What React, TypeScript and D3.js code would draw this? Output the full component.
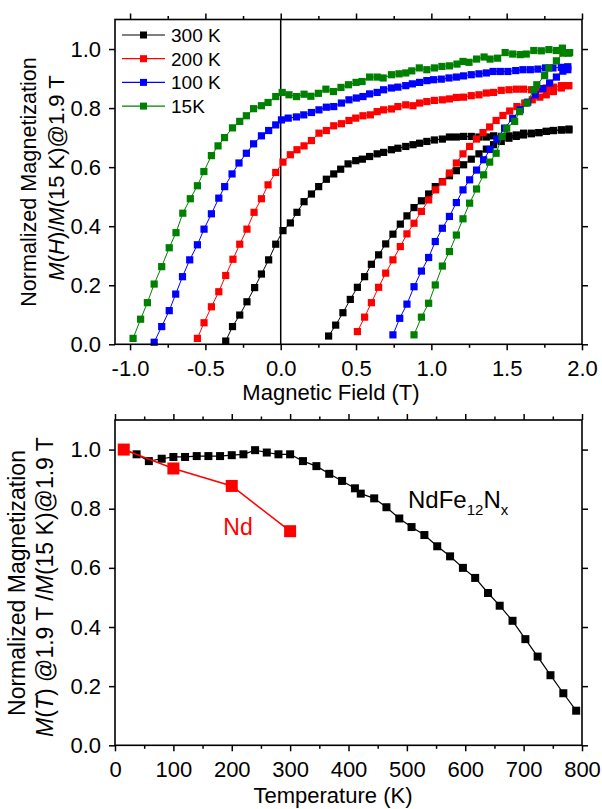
import React, { useEffect, useRef } from "react";
import * as d3 from "d3";

type Pt = [number, number];

// M(H) loops: field (T), M/M(15 K)@1.9 T. "Down" = sweep from +1.9 T, "Up" = return sweep
const k300Down: Pt[] = [[1.913,0.726],[1.863,0.726],[1.81,0.724],[1.763,0.721],[1.714,0.717],[1.664,0.715],[1.612,0.715],[1.564,0.709],[1.515,0.706],[1.464,0.704],[1.413,0.706],[1.365,0.702],[1.316,0.702],[1.265,0.704],[1.214,0.704],[1.166,0.702],[1.12,0.702],[1.073,0.695],[1.02,0.692],[0.97,0.687],[0.922,0.681],[0.878,0.676],[0.83,0.67],[0.778,0.664],[0.735,0.659],[0.683,0.65],[0.64,0.645],[0.59,0.636],[0.542,0.627],[0.498,0.622],[0.447,0.611],[0.398,0.593],[0.352,0.577],[0.303,0.559],[0.252,0.534],[0.204,0.509],[0.155,0.483],[0.108,0.447],[0.064,0.411],[0.015,0.385],[-0.033,0.339],[-0.08,0.286],[-0.128,0.238],[-0.173,0.192],[-0.224,0.144],[-0.272,0.099],[-0.32,0.06],[-0.365,0.011]];
const k300Up: Pt[] = [[0.318,0.028],[0.365,0.065],[0.413,0.107],[0.462,0.152],[0.509,0.193],[0.557,0.229],[0.602,0.271],[0.65,0.303],[0.697,0.34],[0.745,0.373],[0.794,0.407],[0.838,0.435],[0.885,0.463],[0.934,0.486],[0.982,0.509],[1.026,0.534],[1.073,0.551],[1.12,0.571],[1.166,0.588],[1.214,0.608],[1.265,0.627],[1.316,0.645],[1.365,0.661],[1.413,0.676],[1.464,0.687],[1.515,0.698],[1.564,0.704],[1.612,0.709],[1.664,0.713],[1.714,0.717],[1.763,0.721],[1.81,0.724],[1.863,0.726],[1.913,0.729]];

const k200Down: Pt[] = [[1.913,0.876],[1.863,0.876],[1.81,0.871],[1.763,0.868],[1.714,0.864],[1.664,0.862],[1.612,0.864],[1.564,0.864],[1.515,0.862],[1.464,0.86],[1.413,0.853],[1.365,0.851],[1.316,0.845],[1.265,0.842],[1.214,0.837],[1.166,0.836],[1.12,0.831],[1.073,0.828],[1.02,0.826],[0.97,0.822],[0.922,0.817],[0.878,0.808],[0.83,0.811],[0.778,0.805],[0.735,0.797],[0.683,0.794],[0.64,0.788],[0.595,0.777],[0.546,0.774],[0.498,0.766],[0.453,0.758],[0.403,0.747],[0.352,0.74],[0.303,0.724],[0.254,0.715],[0.204,0.69],[0.155,0.672],[0.108,0.659],[0.064,0.642],[0.015,0.617],[-0.033,0.582],[-0.084,0.54],[-0.128,0.493],[-0.177,0.447],[-0.224,0.39],[-0.272,0.339],[-0.317,0.288],[-0.365,0.233],[-0.411,0.178],[-0.46,0.127],[-0.509,0.073],[-0.553,0.02]];
const k200Up: Pt[] = [[0.509,0.043],[0.557,0.092],[0.602,0.141],[0.65,0.193],[0.697,0.241],[0.745,0.286],[0.794,0.331],[0.838,0.374],[0.885,0.41],[0.934,0.45],[0.982,0.489],[1.029,0.523],[1.075,0.55],[1.12,0.58],[1.166,0.614],[1.21,0.645],[1.254,0.67],[1.3,0.695],[1.343,0.717],[1.387,0.736],[1.43,0.758],[1.475,0.775],[1.52,0.79],[1.568,0.805],[1.62,0.817],[1.67,0.828],[1.72,0.837],[1.763,0.845],[1.81,0.856],[1.863,0.868],[1.906,0.876]];

const k100Down: Pt[] = [[1.906,0.93],[1.863,0.938],[1.807,0.936],[1.758,0.936],[1.707,0.932],[1.657,0.93],[1.608,0.93],[1.56,0.927],[1.508,0.924],[1.458,0.924],[1.41,0.924],[1.365,0.919],[1.316,0.916],[1.265,0.913],[1.214,0.909],[1.166,0.905],[1.117,0.902],[1.066,0.898],[1.015,0.896],[0.97,0.893],[0.922,0.887],[0.874,0.882],[0.83,0.876],[0.778,0.871],[0.735,0.868],[0.683,0.862],[0.64,0.853],[0.59,0.848],[0.546,0.839],[0.502,0.834],[0.453,0.828],[0.403,0.817],[0.352,0.805],[0.303,0.803],[0.254,0.794],[0.204,0.785],[0.153,0.777],[0.104,0.77],[0.05,0.766],[0.005,0.76],[-0.033,0.743],[-0.08,0.724],[-0.128,0.706],[-0.18,0.679],[-0.228,0.647],[-0.277,0.614],[-0.323,0.577],[-0.372,0.534],[-0.411,0.495],[-0.46,0.442],[-0.509,0.39],[-0.553,0.337],[-0.604,0.286],[-0.652,0.229],[-0.697,0.17],[-0.74,0.114],[-0.79,0.06],[-0.84,0.007]];
const k100Up: Pt[] = [[0.745,0.032],[0.79,0.088],[0.838,0.136],[0.885,0.195],[0.934,0.248],[0.982,0.294],[1.026,0.348],[1.073,0.393],[1.12,0.433],[1.166,0.48],[1.21,0.523],[1.254,0.557],[1.3,0.59],[1.347,0.625],[1.39,0.66],[1.435,0.695],[1.486,0.732],[1.54,0.765],[1.59,0.795],[1.64,0.82],[1.69,0.845],[1.74,0.866],[1.785,0.885],[1.83,0.905],[1.873,0.925],[1.906,0.94]];

const k15Down: Pt[] = [[1.91,0.986],[1.87,1.003],[1.83,0.995],[1.78,0.998],[1.73,0.994],[1.68,0.995],[1.63,0.983],[1.59,0.981],[1.54,0.983],[1.49,0.988],[1.44,0.969],[1.39,0.966],[1.35,0.973],[1.3,0.966],[1.25,0.955],[1.21,0.958],[1.17,0.949],[1.12,0.943],[1.07,0.941],[1.02,0.936],[0.97,0.93],[0.92,0.936],[0.87,0.926],[0.83,0.919],[0.785,0.916],[0.735,0.913],[0.68,0.902],[0.64,0.905],[0.59,0.905],[0.54,0.89],[0.5,0.887],[0.45,0.879],[0.4,0.87],[0.35,0.856],[0.3,0.864],[0.25,0.85],[0.2,0.84],[0.155,0.847],[0.105,0.839],[0.055,0.845],[0.01,0.853],[-0.033,0.839],[-0.084,0.819],[-0.128,0.808],[-0.18,0.798],[-0.228,0.774],[-0.272,0.755],[-0.32,0.733],[-0.373,0.7],[-0.416,0.672],[-0.46,0.639],[-0.51,0.585],[-0.553,0.537],[-0.6,0.493],[-0.65,0.444],[-0.695,0.378],[-0.74,0.327],[-0.79,0.263],[-0.84,0.204],[-0.885,0.141],[-0.93,0.085],[-0.98,0.02]];
const k15Up: Pt[] = [[0.885,0.032],[0.934,0.092],[0.982,0.139],[1.026,0.201],[1.073,0.265],[1.12,0.314],[1.166,0.37],[1.21,0.425],[1.254,0.478],[1.3,0.526],[1.347,0.574],[1.387,0.617],[1.43,0.647],[1.47,0.704],[1.5,0.732],[1.553,0.755],[1.586,0.788],[1.634,0.817],[1.68,0.862],[1.7,0.879],[1.752,0.91],[1.78,0.936],[1.83,0.96],[1.873,0.986],[1.918,0.988]];

const loopNames = ["300 K", "200 K", "100 K", "15K"];
const loopColors = ["#000000", "#ff0000", "#0000ff", "#008000"];
const loopData = [[k300Down, k300Up], [k200Down, k200Up], [k100Down, k100Up], [k15Down, k15Up]];

const fieldTicks = [-1, -0.5, 0, 0.5, 1, 1.5, 2];
const fieldMinor = [-0.75, -0.25, 0.25, 0.75, 1.25, 1.75];
const magTicks = [0, 0.2, 0.4, 0.6, 0.8, 1.0];
const tempTicks = [0, 100, 200, 300, 400, 500, 600, 700, 800];
const tempMinor = [50, 150, 250, 350, 450, 550, 650, 750];

// M(T) at 1.9 T
const ndfeTemp = [15,37,58,80,100,120,140,160,180,200,220,240,260,280,300,322,345,367,389,411,421,444,465,487,508,530,552,574,596,617,639,659,681,703,724,746,768,790];
const ndfeMag = [1.0,0.984,0.961,0.969,0.975,0.975,0.978,0.978,0.978,0.981,0.984,0.998,0.99,0.984,0.984,0.961,0.944,0.918,0.894,0.869,0.851,0.835,0.805,0.767,0.738,0.711,0.673,0.639,0.6,0.566,0.515,0.472,0.421,0.359,0.3,0.237,0.176,0.117];
const ndTemp = [15, 100, 200, 300];
const ndMag = [1.0, 0.936, 0.877, 0.724];

const FONT = "'Liberation Sans', Arial, sans-serif";

function styleAxis(sel: any) {
  sel.select(".domain").remove();
  sel.selectAll("line").attr("stroke", "#000").attr("stroke-width", 1.5);
  sel.selectAll("text").attr("font-size", 22).attr("font-family", FONT).attr("fill", "#000");
}

function frame(svg: any, x: any, y: any, xMajor: number[], xMinor: number[], xFmt: (d: any) => string) {
  const [x0, x1] = x.range();
  const [y0, y1] = y.range();
  const blank = () => "";
  svg.append("g").attr("transform", `translate(0,${y0})`)
    .call(d3.axisBottom(x).tickValues(xMajor).tickSize(6).tickPadding(10).tickFormat(xFmt)).call(styleAxis);
  svg.append("g").attr("transform", `translate(0,${y0})`)
    .call(d3.axisBottom(x).tickValues(xMinor).tickSize(3.5).tickFormat(blank)).call(styleAxis);
  svg.append("g").attr("transform", `translate(0,${y1})`)
    .call(d3.axisTop(x).tickValues(xMajor).tickSize(6).tickFormat(blank)).call(styleAxis);
  svg.append("g").attr("transform", `translate(0,${y1})`)
    .call(d3.axisTop(x).tickValues(xMinor).tickSize(3.5).tickFormat(blank)).call(styleAxis);
  svg.append("g").attr("transform", `translate(${x0},0)`)
    .call(d3.axisLeft(y).tickValues(magTicks).tickSize(6).tickPadding(8).tickFormat((d: any) => d.toFixed(1))).call(styleAxis);
  svg.append("g").attr("transform", `translate(${x1},0)`)
    .call(d3.axisRight(y).tickValues(magTicks).tickSize(6).tickFormat(blank)).call(styleAxis);
  svg.append("rect").attr("x", x0).attr("y", y1).attr("width", x1 - x0).attr("height", y0 - y1)
    .attr("fill", "none").attr("stroke", "#000").attr("stroke-width", 1.6);
}

function yTitle(svg: any, x: number, cy: number, size: number, parts: [string, boolean][]) {
  const t = svg.append("text").attr("transform", `translate(${x},${cy}) rotate(-90)`)
    .attr("text-anchor", "middle").attr("font-family", FONT).attr("font-size", size);
  parts.forEach(([s, it]) => t.append("tspan").attr("font-style", it ? "italic" : "normal").text(s));
}

export default function App() {
  const ref = useRef<SVGSVGElement>(null);

  useEffect(() => {
    const svg = d3.select(ref.current);
    svg.selectAll("*").remove();

    // ---------- top: hysteresis loops ----------
    const xH = d3.scaleLinear().domain([-1.1, 2.0]).range([115, 582]);
    const yM = d3.scaleLinear().domain([0, 1.1]).range([344.3, 19.5]);
    const line = d3.line<Pt>().x(d => xH(d[0])).y(d => yM(d[1]));

    svg.append("line").attr("x1", xH(0)).attr("x2", xH(0)).attr("y1", yM(0)).attr("y2", yM(1.1))
      .attr("stroke", "#000").attr("stroke-width", 1.5);

    loopData.forEach((branches, i) => {
      branches.forEach(pts => {
        svg.append("path").attr("d", line(pts)).attr("fill", "none")
          .attr("stroke", loopColors[i]).attr("stroke-width", 1);
        svg.append("g").selectAll("rect").data(pts).enter().append("rect")
          .attr("x", d => xH(d[0]) - 3.6).attr("y", d => yM(d[1]) - 3.6)
          .attr("width", 7.2).attr("height", 7.2).attr("fill", loopColors[i]);
      });
    });

    frame(svg, xH, yM, fieldTicks, fieldMinor, (d: any) => d.toFixed(1));

    // legend
    loopNames.forEach((name, i) => {
      const cy = 35 + i * 23.7;
      svg.append("line").attr("x1", 122).attr("x2", 165).attr("y1", cy).attr("y2", cy)
        .attr("stroke", loopColors[i]).attr("stroke-width", 1.2);
      svg.append("rect").attr("x", 140).attr("y", cy - 3.5).attr("width", 7).attr("height", 7)
        .attr("fill", loopColors[i]);
      svg.append("text").attr("x", 171).attr("y", cy + 6.8).attr("font-family", FONT)
        .attr("font-size", 19).text(name);
    });

    svg.append("text").attr("x", 331).attr("y", 400).attr("text-anchor", "middle")
      .attr("font-family", FONT).attr("font-size", 22).text("Magnetic Field (T)");
    yTitle(svg, 36, 182, 21.6, [["Normalized Magnetization", false]]);
    yTitle(svg, 64, 178, 22, [["M", true], ["(", false], ["H", true], [")/", false], ["M", true], ["(15 K)@1.9 T", false]]);

    // ---------- bottom: M(T) ----------
    const xT = d3.scaleLinear().domain([0, 800]).range([115, 582]);
    const yB = d3.scaleLinear().domain([0, 1.1]).range([745.3, 420]);
    const tLine = d3.line<number>().x(i => xT(ndfeTemp[i])).y(i => yB(ndfeMag[i]));
    const nLine = d3.line<number>().x(i => xT(ndTemp[i])).y(i => yB(ndMag[i]));

    svg.append("path").attr("d", tLine(d3.range(ndfeTemp.length))).attr("fill", "none")
      .attr("stroke", "#000").attr("stroke-width", 1.2);
    svg.append("g").selectAll("rect").data(d3.range(ndfeTemp.length)).enter().append("rect")
      .attr("x", i => xT(ndfeTemp[i]) - 4).attr("y", i => yB(ndfeMag[i]) - 4)
      .attr("width", 8).attr("height", 8).attr("fill", "#000");

    svg.append("path").attr("d", nLine(d3.range(ndTemp.length))).attr("fill", "none")
      .attr("stroke", "#ff0000").attr("stroke-width", 1.5);
    svg.append("g").selectAll("rect").data(d3.range(ndTemp.length)).enter().append("rect")
      .attr("x", i => xT(ndTemp[i]) - 6).attr("y", i => yB(ndMag[i]) - 6)
      .attr("width", 12).attr("height", 12).attr("fill", "#ff0000");

    frame(svg, xT, yB, tempTicks, tempMinor, (d: any) => String(d));

    svg.append("text").attr("x", 238).attr("y", 535).attr("text-anchor", "middle")
      .attr("font-family", FONT).attr("font-size", 23).attr("fill", "#ff0000").text("Nd");
    const lab = svg.append("text").attr("x", 408).attr("y", 508).attr("font-family", FONT).attr("font-size", 24);
    lab.append("tspan").text("NdFe");
    lab.append("tspan").attr("font-size", 15).attr("dy", 7).text("12");
    lab.append("tspan").attr("dy", -7).text("N");
    lab.append("tspan").attr("font-size", 15).attr("dy", 7).text("x");

    svg.append("text").attr("x", 333).attr("y", 803).attr("text-anchor", "middle")
      .attr("font-family", FONT).attr("font-size", 22).text("Temperature (K)");
    yTitle(svg, 25, 583, 23, [["Normalized Magnetization", false]]);
    yTitle(svg, 53, 587, 23, [["M", true], ["(", false], ["T", true], [") @1.9 T /", false], ["M", true], ["(15 K)@1.9 T", false]]);
  }, []);

  return (
    <svg ref={ref} width={602} height={809}
      style={{ position: "absolute", left: 0, top: 0, background: "#fff" }} />
  );
}
